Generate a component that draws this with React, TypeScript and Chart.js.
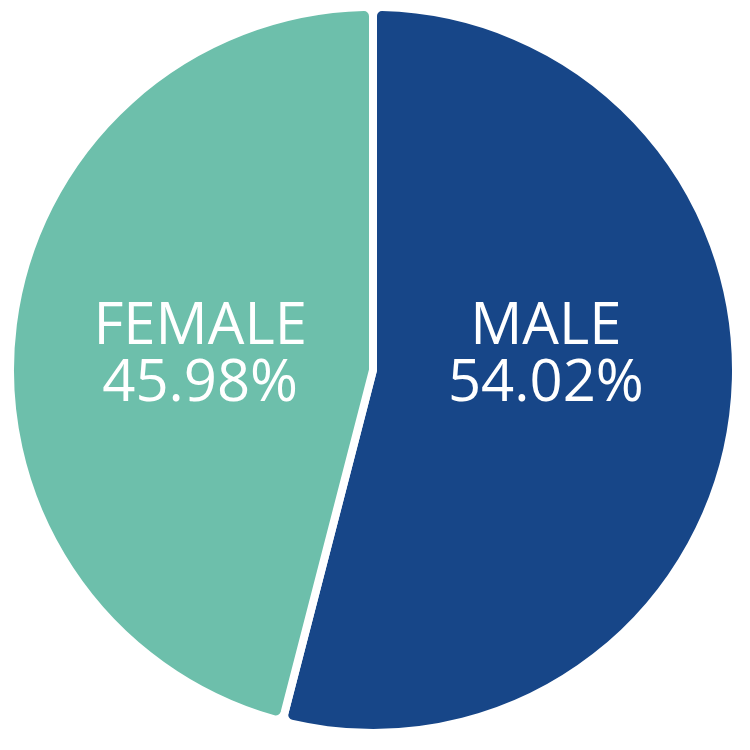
import React, { useEffect, useRef } from "react";
import { Chart, registerables } from "chart.js";

Chart.register(...registerables);

const categories = ["MALE", "FEMALE"];
const percentages = [54.02, 45.98];
const sliceColors = ["#174688", "#6dbfab"];

const labelPlugin = {
  id: "sliceLabels",
  afterDatasetsDraw(chart: any) {
    const ctx = chart.ctx;
    const meta = chart.getDatasetMeta(0);
    ctx.save();
    ctx.fillStyle = "#ffffff";
    ctx.textAlign = "center";
    ctx.textBaseline = "middle";
    ctx.font = "400 58px 'Open Sans'";
    meta.data.forEach((arc: any, i: number) => {
      const p = arc.getProps(["x", "y", "startAngle", "endAngle", "outerRadius"], true);
      const mid = (p.startAngle + p.endAngle) / 2;
      const x = p.x + Math.cos(mid) * p.outerRadius * 0.48;
      const y = p.y - p.outerRadius * 0.04;
      ctx.fillText(categories[i], x, y - 28);
      ctx.fillText(percentages[i].toFixed(2) + "%", x, y + 29);
    });
    ctx.restore();
  },
};

export default function App() {
  const ref = useRef<HTMLCanvasElement | null>(null);
  useEffect(() => {
    if (!ref.current) return;
    const chart = new Chart(ref.current, {
      type: "pie",
      data: {
        labels: categories,
        datasets: [
          {
            data: percentages,
            backgroundColor: sliceColors,
            borderColor: "#ffffff",
            borderWidth: 8,
            borderRadius: 9,
          },
        ],
      },
      options: {
        responsive: true,
        maintainAspectRatio: false,
        animation: false,
        layout: { padding: 0 },
        plugins: {
          legend: { display: false },
          tooltip: { enabled: false },
        },
      },
      plugins: [labelPlugin],
    });
    return () => chart.destroy();
  }, []);
  return (
    <div style={{ position: "fixed", left: 0, top: 3, width: 746, height: 734, background: "#fff" }}>
      <canvas ref={ref} />
    </div>
  );
}
